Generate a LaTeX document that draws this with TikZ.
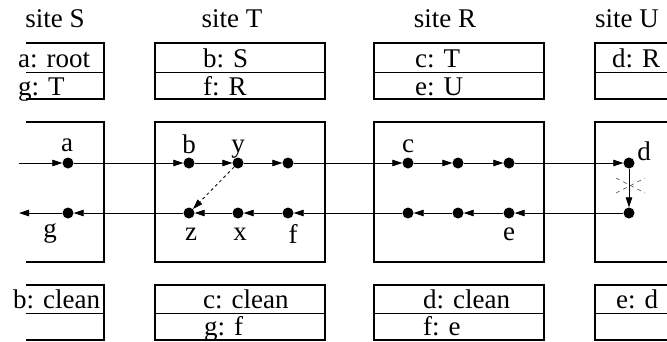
\documentclass[tikz,border=0pt]{standalone}
\usepackage{fontspec}
\setmainfont{Liberation Serif}
\usetikzlibrary{arrows.meta, positioning}

\tikzset{
  sitebox/.style={line width=1.5pt},
  rowline/.style={line width=0.8pt},
  flow/.style={line width=0.8pt, -{Triangle[length=10pt,width=6.5pt]}},
  ev/.style={circle, fill=black, inner sep=0pt, minimum size=11pt},
  txt/.style={anchor=base west, inner sep=0pt, font=\fontsize{27}{31}\selectfont},
  hdr/.style={anchor=base, inner sep=0pt, font=\fontsize{27}{31}\selectfont},
  lbl/.style={anchor=base, inner sep=0pt, font=\fontsize{27}{31}\selectfont},
}

\begin{document}
\begin{tikzpicture}[x=1pt, y=-1pt]
    \useasboundingbox (0,0) rectangle (667,341);

    % ══ TITULOS DE LOS SITIOS ══
    \node[hdr] (hS) at (55,27) {site S};
    \node[hdr] (hT) at (232,27) {site T};
    \node[hdr] (hR) at (445,27) {site R};
    \node[hdr] (hU) at (627,27) {site U};

    % ══ TABLAS SUPERIORES ══
    \draw[sitebox] (26,43) -- (104,43) -- (104,99) -- (26,99);
    \draw[rowline] (26,72) -- (104,72);
    \draw[sitebox] (155,43) rectangle (325,99);
    \draw[rowline] (155,72) -- (325,72);
    \draw[sitebox] (374,43) rectangle (544,99);
    \draw[rowline] (374,72) -- (544,72);
    \draw[sitebox] (667,43) -- (595,43) -- (595,99) -- (667,99);
    \draw[rowline] (595,72) -- (667,72);

    \node[txt] (tSa) at (18,67) {a: root};
    \node[txt] (tSg) at (18,95) {g: T};
    \node[txt] (tTb) at (203,67) {b: S};
    \node[txt] (tTf) at (203,95) {f: R};
    \node[txt] (tRc) at (415,67) {c: T};
    \node[txt] (tRe) at (415,95) {e: U};
    \node[txt] (tUd) at (612,67) {d: R};

    % ══ CAJAS DE LOS SITIOS ══
    \draw[sitebox] (26,122) -- (104,122) -- (104,262) -- (26,262);
    \draw[sitebox] (155,122) rectangle (325,262);
    \draw[sitebox] (374,122) rectangle (544,262);
    \draw[sitebox] (667,122) -- (595,122) -- (595,262) -- (667,262);

    % ══ EVENTOS ══
    \coordinate (in) at (19,163);
    \node[ev] (a) at (68,163) {};
    \node[ev] (b) at (189,163) {};
    \node[ev] (y) at (238,163) {};
    \node[ev] (t3) at (288,163) {};
    \node[ev] (c) at (408,163) {};
    \node[ev] (r2) at (458,163) {};
    \node[ev] (r3) at (509,163) {};
    \node[ev] (d) at (629,163) {};

    \node[ev] (u2) at (629,213) {};
    \node[ev] (e) at (509,213) {};
    \node[ev] (r5) at (458,213) {};
    \node[ev] (r6) at (408,213) {};
    \node[ev] (f) at (288,213) {};
    \node[ev] (x) at (238,213) {};
    \node[ev] (z) at (189,213) {};
    \node[ev] (g) at (68,213) {};
    \coordinate (out) at (19,213);

    % mensajes de ida
    \draw[flow] (in) -- (a);
    \draw[flow] (a) -- (b);
    \draw[flow] (b) -- (y);
    \draw[flow] (y) -- (t3);
    \draw[flow] (t3) -- (c);
    \draw[flow] (c) -- (r2);
    \draw[flow] (r2) -- (r3);
    \draw[flow] (r3) -- (d);

    % bajada en el sitio U
    \draw[flow] (d) -- (u2);
    \draw[black!70, line width=0.6pt, dash pattern=on 4pt off 4pt] (616,178) -- (645,193);
    \draw[black!70, line width=0.6pt, dash pattern=on 4pt off 4pt] (616,193) -- (645,178);

    % mensajes de vuelta
    \draw[flow] (u2) -- (e);
    \draw[flow] (e) -- (r5);
    \draw[flow] (r5) -- (r6);
    \draw[flow] (r6) -- (f);
    \draw[flow] (f) -- (x);
    \draw[flow] (x) -- (z);
    \draw[flow] (z) -- (g);
    \draw[flow] (g) -- (out);

    % atajo y -> z
    \draw[flow, dashed] (y) -- (z);

    % ══ ETIQUETAS ══
    \node[lbl] (la) at (67,151) {a};
    \node[lbl] (lb) at (189,153) {b};
    \node[lbl] (ly) at (238,152) {y};
    \node[lbl] (lc) at (408,152) {c};
    \node[lbl] (ld) at (644,160) {d};
    \node[lbl] (lg) at (50,237) {g};
    \node[lbl] (lz) at (191,240) {z};
    \node[lbl] (lx) at (240,240) {x};
    \node[lbl] (lf) at (293,243) {f};
    \node[lbl] (le) at (509,240) {e};

    % ══ TABLAS INFERIORES ══
    \draw[sitebox] (26,285) -- (104,285) -- (104,340) -- (26,340);
    \draw[rowline] (26,313) -- (104,313);
    \draw[sitebox] (155,285) rectangle (325,340);
    \draw[rowline] (155,313) -- (325,313);
    \draw[sitebox] (374,285) rectangle (544,340);
    \draw[rowline] (374,313) -- (544,313);
    \draw[sitebox] (667,285) -- (595,285) -- (595,340) -- (667,340);
    \draw[rowline] (595,313) -- (667,313);

    \node[txt] (bSb) at (13,308) {b: clean};
    \node[txt] (bTc) at (203,308) {c: clean};
    \node[txt] (bTg) at (204,335) {g: f};
    \node[txt] (bRd) at (423,308) {d: clean};
    \node[txt] (bRf) at (423,335) {f: e};
    \node[txt] (bUe) at (616,308) {e: d};
\end{tikzpicture}
\end{document}
